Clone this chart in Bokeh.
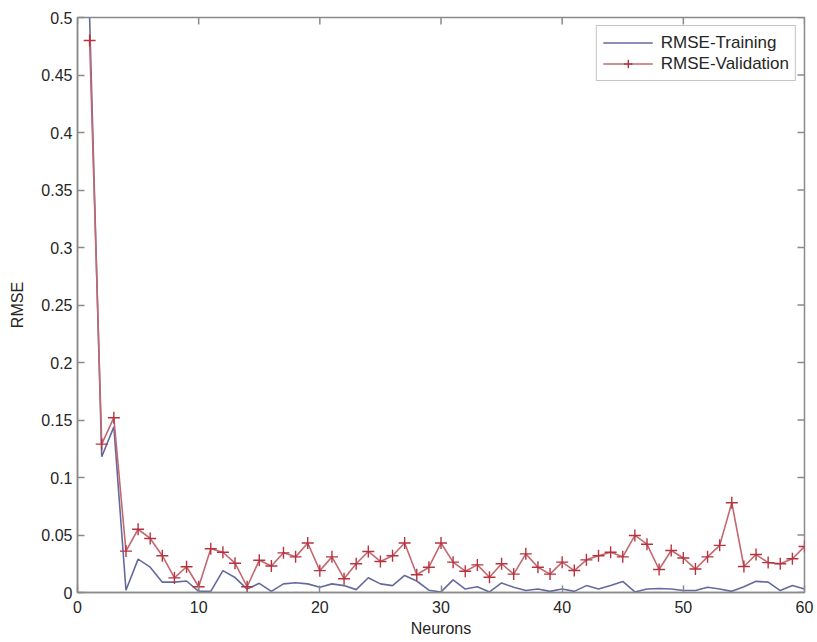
import math
from bokeh.plotting import figure
from bokeh.models import Range1d, FixedTicker, Legend, LegendItem
from bokeh.embed import file_html
from bokeh.resources import INLINE

neurons = list(range(1, 61))
rmse_training = [
    0.50, 0.118, 0.144, 0.002, 0.029, 0.022, 0.009, 0.009, 0.010, 0.001,
    0.001, 0.019, 0.013, 0.003, 0.008, 0.001, 0.0075, 0.0085, 0.0075, 0.0045,
    0.0075, 0.006, 0.0025, 0.0128, 0.0075, 0.006, 0.0148, 0.010, 0.002, 0.0005,
    0.011, 0.003, 0.005, 0.0005, 0.0083, 0.0045, 0.0017, 0.003, 0.001, 0.003,
    0.001, 0.006, 0.003, 0.006, 0.0096, 0.0005, 0.003, 0.0035, 0.003, 0.0017,
    0.0017, 0.0046, 0.003, 0.001, 0.005, 0.0097, 0.009, 0.0017, 0.006, 0.003,
]
rmse_validation = [
    0.48, 0.129, 0.152, 0.036, 0.055, 0.047, 0.032, 0.0127, 0.0224, 0.005,
    0.038, 0.035, 0.0255, 0.005, 0.028, 0.023, 0.0345, 0.031, 0.043, 0.019,
    0.031, 0.012, 0.025, 0.0357, 0.027, 0.032, 0.043, 0.0154, 0.022, 0.043,
    0.0264, 0.0185, 0.024, 0.0133, 0.025, 0.016, 0.0336, 0.022, 0.016, 0.0264,
    0.0191, 0.0284, 0.032, 0.035, 0.031, 0.0496, 0.042, 0.020, 0.0365, 0.030,
    0.0204, 0.031, 0.041, 0.078, 0.0226, 0.033, 0.026, 0.025, 0.0293, 0.040,
]
x_ticks = [0, 10, 20, 30, 40, 50, 60]
y_ticks = [0, 0.05, 0.1, 0.15, 0.2, 0.25, 0.3, 0.35, 0.4, 0.45, 0.5]
y_tick_labels = ["0", "0.05", "0.1", "0.15", "0.2", "0.25", "0.3", "0.35", "0.4", "0.45", "0.5"]
x_min, x_max = 0, 60
y_min, y_max = 0, 0.5

FONT = "Liberation Sans"
AXIS_COL = "#8a8a8a"
TEXT_COL = "#262626"
TRAIN_COL = "#646a9e"
VAL_LINE_COL = "#c46870"
VAL_MARK_COL = "#b8323e"

p = figure(width=817, height=642, output_backend="svg", toolbar_location=None,
           x_range=Range1d(x_min, x_max), y_range=Range1d(y_min, y_max),
           min_border_left=77, min_border_right=13, min_border_top=17, min_border_bottom=50)
p.background_fill_color = "white"
p.border_fill_color = "white"
p.xgrid.visible = False
p.ygrid.visible = False
p.outline_line_color = AXIS_COL
p.outline_line_width = 1.5

# inward ticks on the top and right edges of the box (MATLAB style)
p.ray(x=x_ticks, y=[y_max] * len(x_ticks), length=7, length_units="screen",
      angle=-math.pi / 2, line_color=AXIS_COL, line_width=1.5)
p.ray(x=[x_max] * len(y_ticks), y=y_ticks, length=7, length_units="screen",
      angle=math.pi, line_color=AXIS_COL, line_width=1.5)

r_train = p.line(neurons, rmse_training, line_color=TRAIN_COL, line_width=1.6)
r_val_line = p.line(neurons, rmse_validation, line_color=VAL_LINE_COL, line_width=1.6)
r_val_mark = p.scatter(neurons, rmse_validation, marker="cross", size=12,
                       line_color=VAL_MARK_COL, line_width=1.4)

def style_axis(ax):
    ax.axis_line_color = AXIS_COL
    ax.axis_line_width = 1.5
    ax.major_tick_line_color = AXIS_COL
    ax.major_tick_line_width = 1.5
    ax.major_tick_in = 7
    ax.major_tick_out = 0
    ax.minor_tick_line_color = None
    ax.major_label_text_font = FONT
    ax.major_label_text_font_size = "16px"
    ax.major_label_text_color = TEXT_COL
    ax.axis_label_text_font = FONT
    ax.axis_label_text_font_size = "16px"
    ax.axis_label_text_font_style = "normal"
    ax.axis_label_text_color = TEXT_COL

xax = p.xaxis[0]
xax.ticker = FixedTicker(ticks=x_ticks)
xax.axis_label = "Neurons"
style_axis(xax)
xax.major_label_standoff = 8
xax.axis_label_standoff = 4

yax = p.yaxis[0]
yax.ticker = FixedTicker(ticks=y_ticks)
yax.major_label_overrides = {t: l for t, l in zip(y_ticks, y_tick_labels)}
yax.axis_label = "RMSE"
style_axis(yax)
yax.major_label_standoff = 5
yax.axis_label_standoff = 12

legend = Legend(items=[
    LegendItem(label="RMSE-Training", renderers=[r_train]),
    LegendItem(label="RMSE-Validation", renderers=[r_val_line, r_val_mark]),
], location="top_right")
legend.label_text_font = FONT
legend.label_text_font_size = "17px"
legend.label_text_color = TEXT_COL
legend.glyph_width = 50
legend.glyph_height = 21
legend.label_height = 21
legend.label_standoff = 8
legend.spacing = 0
legend.padding = 6
legend.margin = 8
legend.border_line_color = AXIS_COL
legend.border_line_width = 1.2
legend.background_fill_color = "white"
legend.background_fill_alpha = 1.0
p.add_layout(legend)

open("out.html", "w").write(file_html(p, INLINE))
